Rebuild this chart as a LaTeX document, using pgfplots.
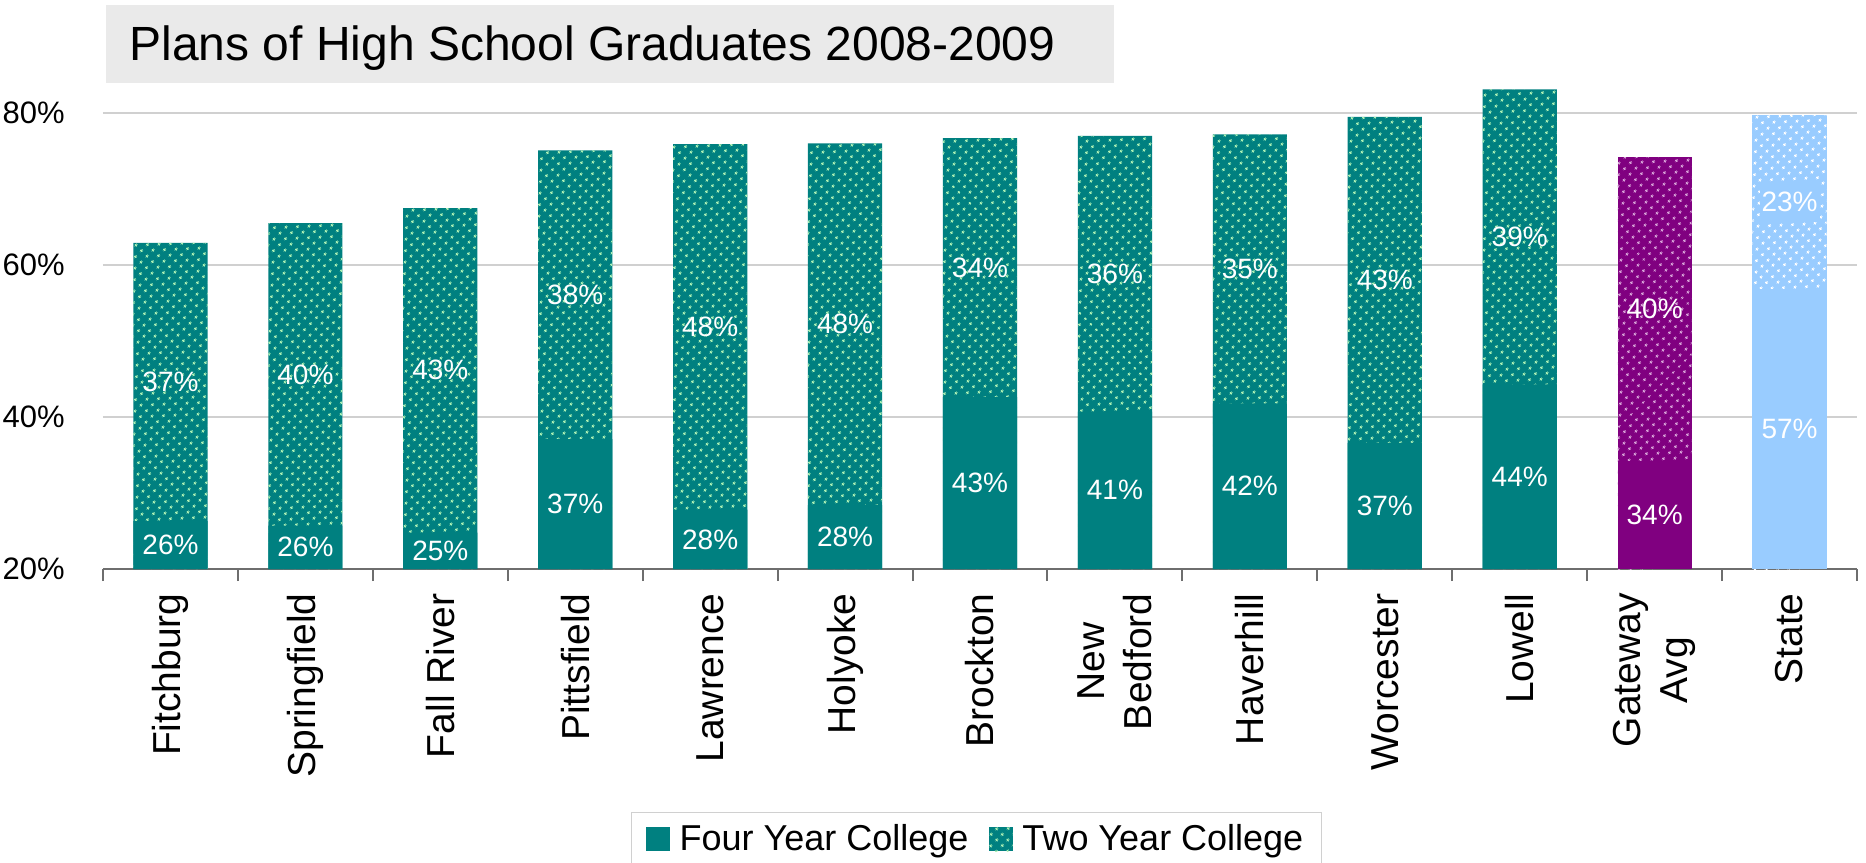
\documentclass[border=0pt]{standalone}
\usepackage{fontspec}
\setmainfont{Liberation Sans}
\usepackage{pgfplots}
\pgfplotsset{compat=1.18}
\usepackage{pgfplotstable}
\usetikzlibrary{patterns.meta}

\definecolor{teal4}{RGB}{0,128,128}
\definecolor{tealdot}{RGB}{170,240,180}
\definecolor{purp}{RGB}{128,0,128}
\definecolor{purpdot}{RGB}{215,160,215}
\definecolor{lblue}{RGB}{153,204,255}
\definecolor{gridgray}{RGB}{208,208,208}
\definecolor{axgray}{RGB}{110,110,110}
\definecolor{titlegray}{RGB}{234,234,234}

% x: category index, four = four year college, two = two year college (%)
\pgfplotstableread{
x four two
0  26.3 36.6
1  25.7 39.8
2  24.8 42.7
3  37.1 38.0
4  27.8 48.1
5  28.4 47.6
6  42.6 34.1
7  40.7 36.3
8  41.8 35.4
9  36.6 42.9
10 44.3 38.8
11 34.2 40.0
12 56.9 22.8
}\plans

\tikzset{dotfill/.style={pattern={Dots[distance=4pt, angle=45, radius=0.75pt]}, pattern color=#1}}
\pgfplotsset{pctlabel/.style={
    nodes near coords={\pgfmathprintnumber[fixed,precision=0]{\pgfplotspointmeta}\%}}}

\begin{document}
\begin{tikzpicture}
\path[use as bounding box] (-51.5pt,-146.5pt) rectangle (881.5pt,284.5pt);
\begin{axis}[
    scale only axis,
    width=877pt, height=247pt,
    xmin=-0.5, xmax=12.5,
    ymin=20, ymax=85,
    clip mode=individual,
    axis x line*=bottom,
    axis y line*=left,
    y axis line style={draw=none},
    x axis line style={draw=axgray, line width=1pt},
    xtick={-0.5,0.5,...,12.5},
    x tick label as interval,
    xticklabels={Fitchburg,Springfield,Fall River,Pittsfield,Lawrence,Holyoke,Brockton,New\\Bedford,Haverhill,Worcester,Lowell,Gateway\\Avg,State},
    xticklabel style={rotate=90, anchor=east, align=center, inner sep=0pt, xshift=-6pt,
        font=\fontsize{19.5}{23.5}\selectfont},
    x tick style={draw=axgray, line width=1pt},
    tick align=outside,
    major tick length=6pt,
    ytick={20,40,60,80},
    yticklabels={20\%,40\%,60\%,80\%},
    yticklabel style={anchor=east, inner sep=0pt, xshift=-13pt,
        font=\fontsize{15.5}{18}\selectfont},
    y tick style={draw=none},
    ymajorgrids,
    major grid style={draw=gridgray, line width=1pt},
    /pgf/number format/assume math mode=true,
    legend columns=-1,
    legend style={at={(0.498,-0.492)}, anchor=north, draw=gridgray, line width=0.5pt,
        font=\fontsize{18}{21}\selectfont, inner xsep=7pt, inner ysep=4pt,
        /tikz/every odd column/.append style={column sep=3pt},
        /tikz/every even column/.append style={column sep=8pt}},
    legend image code/.code={\fill[#1] (0pt,-6pt) rectangle (12pt,6pt);},
    every node near coord/.append style={anchor=center, text=white,
        font=\fontsize{14}{16}\selectfont},
]
\addlegendimage{fill=teal4, draw=none}
\addlegendentry{Four Year College}
\addlegendimage{fill=teal4, draw=none, postaction={dotfill=tealdot}}
\addlegendentry{Two Year College}

% two year segments (drawn as full column, four year drawn over it)
\addplot[ybar, bar width=0.55, bar shift=0pt, draw=none, fill=teal4,
    postaction={dotfill=tealdot}, restrict x to domain=-0.5:10.5, forget plot]
    table[x=x, y expr=\thisrow{four}+\thisrow{two}] {\plans};
\addplot[ybar, bar width=0.55, bar shift=0pt, draw=none, fill=purp,
    postaction={dotfill=purpdot}, restrict x to domain=10.5:11.5, forget plot]
    table[x=x, y expr=\thisrow{four}+\thisrow{two}] {\plans};
\addplot[ybar, bar width=0.55, bar shift=0pt, draw=none, fill=lblue,
    postaction={dotfill=white}, restrict x to domain=11.5:12.5, forget plot]
    table[x=x, y expr=\thisrow{four}+\thisrow{two}] {\plans};

% four year
\addplot[ybar, bar width=0.55, bar shift=0pt, draw=none, fill=teal4,
    restrict x to domain=-0.5:10.5, forget plot]
    table[x=x, y=four] {\plans};
\addplot[ybar, bar width=0.55, bar shift=0pt, draw=none, fill=purp,
    restrict x to domain=10.5:11.5, forget plot]
    table[x=x, y=four] {\plans};
\addplot[ybar, bar width=0.55, bar shift=0pt, draw=none, fill=lblue,
    restrict x to domain=11.5:12.5, forget plot]
    table[x=x, y=four] {\plans};

% value labels, centred in the visible part of each segment
\addplot[only marks, mark=none, pctlabel, point meta=\thisrow{four}, forget plot]
    table[x=x, y expr=(\thisrow{four}+20)/2] {\plans};
\addplot[only marks, mark=none, pctlabel, point meta=\thisrow{two},
    restrict x to domain=-0.5:11.5, forget plot]
    table[x=x, y expr=\thisrow{four}+\thisrow{two}/2] {\plans};
\addplot[only marks, mark=none, pctlabel, point meta=\thisrow{two},
    restrict x to domain=11.5:12.5, forget plot,
    every node near coord/.append style={fill=lblue, inner xsep=1pt, inner ysep=5pt}]
    table[x=x, y expr=\thisrow{four}+\thisrow{two}/2] {\plans};
\end{axis}
\fill[titlegray] (1.5pt,243pt) rectangle (505.5pt,282pt);
\node[anchor=base west, inner sep=0pt, font=\fontsize{24}{28}\selectfont] at (13pt,254pt)
    {Plans of High School Graduates 2008-2009};
\end{tikzpicture}
\end{document}
